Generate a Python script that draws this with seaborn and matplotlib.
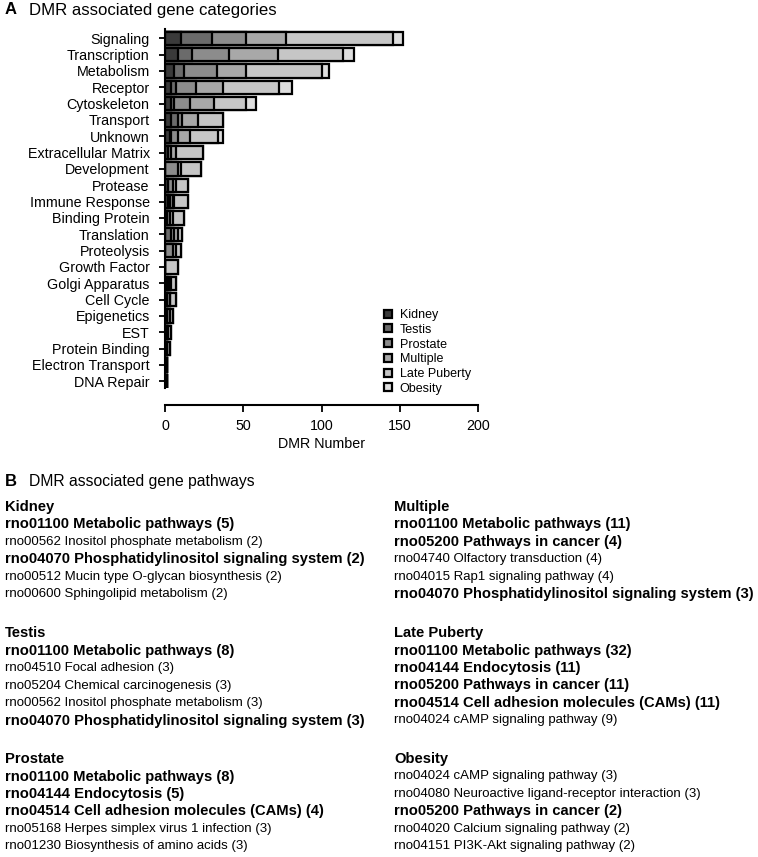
import matplotlib
matplotlib.use("Agg")
import numpy as np
import pandas as pd
import matplotlib.pyplot as plt
import seaborn as sns
from matplotlib.patches import Patch

# ---------------- data ----------------
categories = ["Signaling", "Transcription", "Metabolism", "Receptor", "Cytoskeleton",
              "Transport", "Unknown", "Extracellular Matrix", "Development", "Protease",
              "Immune Response", "Binding Protein", "Translation", "Proteolysis",
              "Growth Factor", "Golgi Apparatus", "Cell Cycle", "Epigenetics", "EST",
              "Protein Binding", "Electron Transport", "DNA Repair"]
kidney       = [10, 8, 6, 4, 4, 4, 3, 2, 0, 2, 2, 1, 0, 0, 0, 1, 1, 1, 1, 1, 1, 1]
testis       = [20, 9, 6, 3, 2, 4, 1, 0, 0, 0, 1, 0, 4, 0, 0, 1, 0, 0, 0, 0, 0, 0]
prostate     = [22, 24, 21, 13, 10, 3, 4, 2, 8, 3, 2, 2, 2, 5, 0, 1, 2, 2, 1, 0, 0, 0]
multiple     = [25, 31, 19, 17, 15, 10, 8, 3, 2, 2, 1, 2, 2, 2, 0, 1, 0, 0, 0, 0, 0, 0]
late_puberty = [69, 42, 48, 36, 21, 16, 18, 17, 13, 8, 9, 7, 3, 3, 8, 3, 4, 2, 2, 2, 0, 0]
obesity      = [6, 7, 5, 8, 6, 0, 3, 0, 0, 0, 0, 0, 0, 0, 0, 0, 0, 0, 0, 0, 0, 0]

tissue_names = ["Kidney", "Testis", "Prostate", "Multiple", "Late Puberty", "Obesity"]
tissue_colors = ["#3a3a3a", "#6b6b6b", "#8c8c8c", "#a8a8a8", "#c6c6c6", "#dedede"]
xticks = [0, 50, 100, 150, 200]

kidney_paths = ["rno01100 Metabolic pathways (5)",
                "rno00562 Inositol phosphate metabolism (2)",
                "rno04070 Phosphatidylinositol signaling system (2)",
                "rno00512 Mucin type O-glycan biosynthesis (2)",
                "rno00600 Sphingolipid metabolism (2)"]
kidney_bold = [True, False, True, False, False]
testis_paths = ["rno01100 Metabolic pathways (8)",
                "rno04510 Focal adhesion (3)",
                "rno05204 Chemical carcinogenesis (3)",
                "rno00562 Inositol phosphate metabolism (3)",
                "rno04070 Phosphatidylinositol signaling system (3)"]
testis_bold = [True, False, False, False, True]
prostate_paths = ["rno01100 Metabolic pathways (8)",
                  "rno04144 Endocytosis (5)",
                  "rno04514 Cell adhesion molecules (CAMs) (4)",
                  "rno05168 Herpes simplex virus 1 infection (3)",
                  "rno01230 Biosynthesis of amino acids (3)"]
prostate_bold = [True, True, True, False, False]
multiple_paths = ["rno01100 Metabolic pathways (11)",
                  "rno05200 Pathways in cancer (4)",
                  "rno04740 Olfactory transduction (4)",
                  "rno04015 Rap1 signaling pathway (4)",
                  "rno04070 Phosphatidylinositol signaling system (3)"]
multiple_bold = [True, True, False, False, True]
puberty_paths = ["rno01100 Metabolic pathways (32)",
                 "rno04144 Endocytosis (11)",
                 "rno05200 Pathways in cancer (11)",
                 "rno04514 Cell adhesion molecules (CAMs) (11)",
                 "rno04024 cAMP signaling pathway (9)"]
puberty_bold = [True, True, True, True, False]
obesity_paths = ["rno04024 cAMP signaling pathway (3)",
                 "rno04080 Neuroactive ligand-receptor interaction (3)",
                 "rno05200 Pathways in cancer (2)",
                 "rno04020 Calcium signaling pathway (2)",
                 "rno04151 PI3K-Akt signaling pathway (2)"]
obesity_bold = [False, False, True, False, False]

# ---------------- figure ----------------
sns.set_style("ticks")
plt.rcParams["font.family"] = ["Liberation Sans", "DejaVu Sans"]
plt.rcParams.update({"text.color": "black", "axes.labelcolor": "black",
                     "xtick.color": "black", "ytick.color": "black",
                     "axes.edgecolor": "black"})

W, H = 758, 857
fig = plt.figure(figsize=(W / 100, H / 100), dpi=100)


def fx(px):
    return px / W


def fy(py):
    return 1 - py / H


ax = fig.add_axes([fx(165), fy(388), (478 - 165) / W, (388 - 29) / H])

df = pd.DataFrame(dict(zip(tissue_names, [kidney, testis, prostate, multiple,
                                          late_puberty, obesity])), index=categories)
cum = df.cumsum(axis=1)
for name, color in reversed(list(zip(tissue_names, tissue_colors))):
    sns.barplot(x=cum[name].values, y=categories, orient="h", color=color,
                saturation=1, edgecolor="black", linewidth=1.6, width=0.82,
                errorbar=None, ax=ax)

ax.set_xlim(0, 200)
ax.set_xticks(xticks)
ax.set_xticklabels([str(t) for t in xticks])
ax.set_ylim(21.41, -0.57)
sns.despine(ax=ax)
ax.spines["bottom"].set_position(("outward", 12))
for s in ["left", "bottom"]:
    ax.spines[s].set_linewidth(1.5)
    ax.spines[s].set_color("black")
ax.tick_params(axis="y", length=4.5, width=1.3, pad=6.5, labelsize=10.3,
               colors="black")
ax.tick_params(axis="x", length=5, width=1.3, pad=5, labelsize=10.3,
               colors="black")
ax.set_xlabel("DMR Number", fontsize=10.3, labelpad=3, color="black")
ax.set_ylabel("")

handles = [Patch(facecolor=c, edgecolor="black", linewidth=1.6, label=n)
           for n, c in zip(tissue_names, tissue_colors)]
fig.legend(handles=handles, loc="upper left", bbox_to_anchor=(fx(384), fy(309)),
           frameon=False, fontsize=9, handlelength=0.6, handleheight=0.6,
           handletextpad=0.65, labelspacing=0.22, borderpad=0, borderaxespad=0)

# ---------------- titles ----------------
fig.text(fx(5), fy(10), "A", fontsize=12, fontweight="bold", va="center", ha="left")
fig.text(fx(29.3), fy(10), "DMR associated gene categories", fontsize=12.1,
         va="center", ha="left")
fig.text(fx(5), fy(481.7), "B", fontsize=12, fontweight="bold", va="center", ha="left")
fig.text(fx(29.3), fy(481.7), "DMR associated gene pathways", fontsize=11.3,
         va="center", ha="left")

# ---------------- pathway lists ----------------
blocks = [
    (5, 506.7, "Kidney", kidney_paths, kidney_bold),
    (5, 633.0, "Testis", testis_paths, testis_bold),
    (5, 759.0, "Prostate", prostate_paths, prostate_bold),
    (394, 506.7, "Multiple", multiple_paths, multiple_bold),
    (394, 633.0, "Late Puberty", puberty_paths, puberty_bold),
    (394, 759.0, "Obesity", obesity_paths, obesity_bold),
]
line_h = 17.5
bold_size = 10.6
reg_size = 9.5
for x0, y0, title, paths, bold in blocks:
    fig.text(fx(x0), fy(y0), title, fontsize=bold_size, fontweight="bold",
             va="center", ha="left")
    for i, (p, b) in enumerate(zip(paths, bold)):
        fig.text(fx(x0), fy(y0 + (i + 1) * line_h), p,
                 fontsize=bold_size if b else reg_size,
                 fontweight="bold" if b else "normal", va="center", ha="left")

fig.savefig("out.png", dpi=100)
